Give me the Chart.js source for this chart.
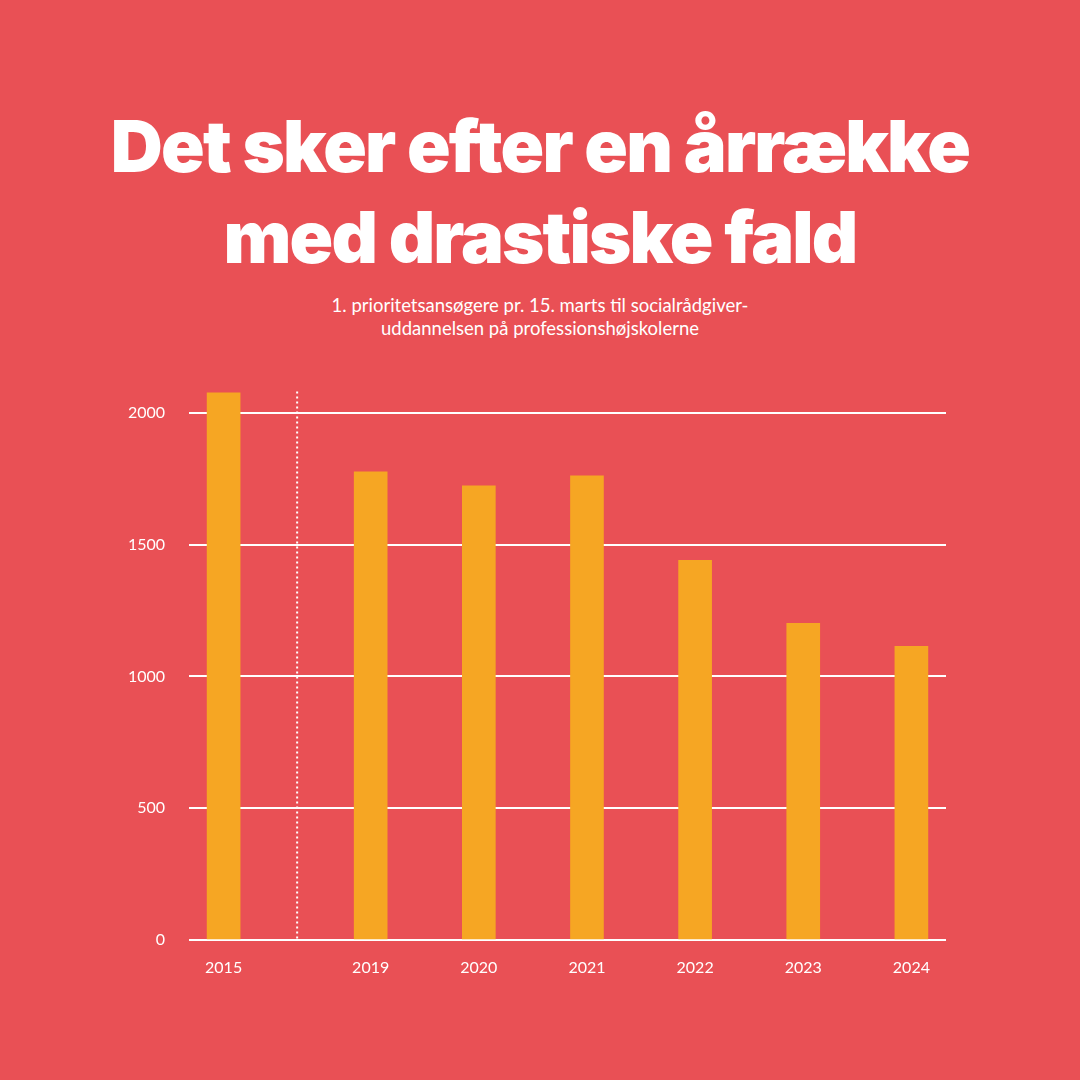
<!DOCTYPE html>
<html lang="da">
<head>
<meta charset="utf-8">
<script src="https://cdn.jsdelivr.net/npm/chart.js@4/dist/chart.umd.min.js"></script>
<style>
    html, body {
        margin: 0;
        padding: 0;
        width: 1080px;
        height: 1080px;
        background: #e95055;
        overflow: hidden;
        font-family: 'Lato', 'Open Sans', sans-serif;
        color: #fff;
    }
    h1 {
        position: absolute;
        left: 0;
        top: 100px;
        width: 1080px;
        margin: 0;
        text-align: center;
        font-family: 'Inter', 'Lato', sans-serif;
        font-weight: 900;
        font-size: 72px;
        line-height: 91px;
        letter-spacing: -1.8px;
    }
    .subtitle {
        position: absolute;
        left: 0;
        top: 294px;
        width: 1080px;
        margin: 0;
        text-align: center;
        font-size: 18.5px;
        line-height: 23px;
    }
    .chart-wrap {
        position: absolute;
        left: 0;
        top: 358px;
        width: 1080px;
        height: 692px;
    }
</style>
</head>
<body>
<h1>Det sker efter en årrække<br>med drastiske fald</h1>
<p class="subtitle">1. prioritetsansøgere pr. 15. marts til socialrådgiver-<br>uddannelsen på professionshøjskolerne</p>
<div class="chart-wrap"><canvas id="chart"></canvas></div>

<script>
    const years = ['2015', '2019', '2020', '2021', '2022', '2023', '2024'];
    const applicants = [2075, 1776, 1723, 1761, 1440, 1201, 1114];
    const yTicks = [0, 500, 1000, 1500, 2000];

    // the jump from 2015 to 2019 gets a slightly wider slot than the rest
    const extraGap = 0.36;
    const slots = years.map((y, i) => i + (i > 0 ? extraGap : 0));

    const barColor = '#f6a623';
    const white = '#ffffff';

    const breakLine = {
        id: 'breakLine',
        afterDatasetsDraw(chart) {
            const { ctx, chartArea, scales } = chart;
            const x = scales.x.getPixelForValue((slots[0] + slots[1]) / 2);
            ctx.save();
            ctx.strokeStyle = white;
            ctx.lineWidth = 2;
            ctx.setLineDash([2, 3]);
            ctx.beginPath();
            ctx.moveTo(x, chartArea.top);
            ctx.lineTo(x, chartArea.bottom);
            ctx.stroke();
            ctx.restore();
        }
    };

    new Chart(document.getElementById('chart'), {
        type: 'bar',
        data: {
            datasets: [{
                label: '1. prioritetsansøgere',
                data: applicants.map((v, i) => ({ x: slots[i], y: v })),
                backgroundColor: barColor,
                barThickness: 33,
                borderWidth: 0
            }]
        },
        options: {
            responsive: true,
            maintainAspectRatio: false,
            animation: false,
            layout: { padding: { top: 9, right: 134, left: 0, bottom: 0 } },
            plugins: {
                legend: { display: false },
                tooltip: { enabled: false }
            },
            scales: {
                x: {
                    type: 'linear',
                    offset: false,
                    min: slots[0] - 0.32,
                    max: slots[slots.length - 1] + 0.32,
                    afterBuildTicks: (scale) => {
                        scale.ticks = slots.map(v => ({ value: v }));
                    },
                    afterFit: (scale) => { scale.height = 110; },
                    grid: { display: false, drawTicks: false },
                    border: { display: false },
                    ticks: {
                        color: white,
                        padding: 18,
                        maxRotation: 0,
                        autoSkip: false,
                        font: { family: 'Lato', size: 16 },
                        callback: (value, index) => years[index]
                    }
                },
                y: {
                    min: 0,
                    max: 2080,
                    afterBuildTicks: (scale) => {
                        scale.ticks = yTicks.map(v => ({ value: v }));
                    },
                    afterFit: (scale) => { scale.width = 189; },
                    grid: { color: white, lineWidth: 2, drawTicks: false },
                    border: { display: false },
                    ticks: {
                        color: white,
                        padding: 24,
                        font: { family: 'Lato', size: 16 },
                        callback: (value) => String(value)
                    }
                }
            }
        },
        plugins: [breakLine]
    });
</script>
</body>
</html>
